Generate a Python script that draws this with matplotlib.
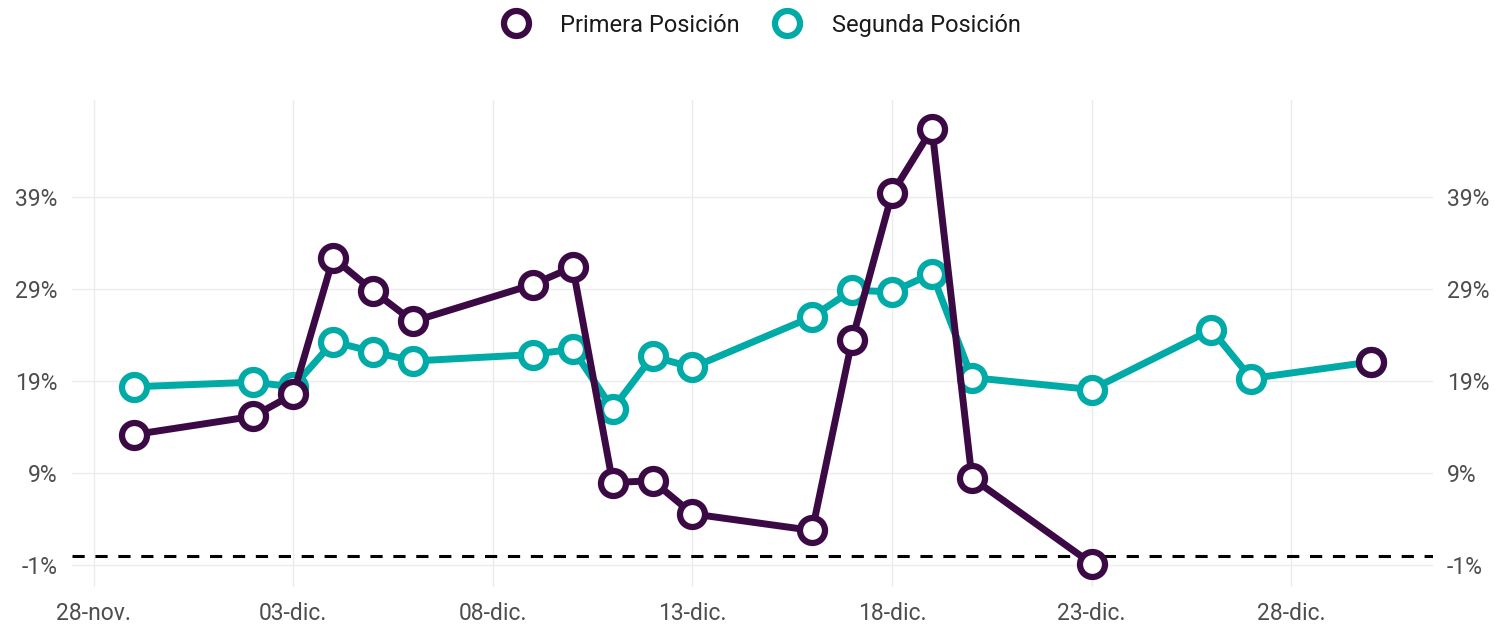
import numpy as np
import pandas as pd
import matplotlib
matplotlib.use("Agg")
from matplotlib import pyplot as plt
import matplotlib.dates as mdates

plt.rcParams["font.family"] = ["Roboto", "DejaVu Sans"]

# data: daily share (%), NaN where there is no point
fechas = pd.to_datetime([
    "2020-11-29", "2020-12-02", "2020-12-03", "2020-12-04", "2020-12-05",
    "2020-12-06", "2020-12-09", "2020-12-10", "2020-12-11", "2020-12-12",
    "2020-12-13", "2020-12-16", "2020-12-17", "2020-12-18", "2020-12-19",
    "2020-12-20", "2020-12-23", "2020-12-26", "2020-12-27", "2020-12-30",
])
primera = [13.2, 15.2, 17.6, 32.4, 28.8, 25.5, 29.5, 31.4, 8.0, 8.2,
           4.6, 2.8, 23.5, 39.4, 46.4, 8.5, -0.8, np.nan, np.nan, 21.1]
segunda = [18.4, 18.9, 18.4, 23.3, 22.2, 21.2, 21.9, 22.5, 16.0, 21.7,
           20.5, 26.0, 28.9, 28.7, 30.7, 19.4, 18.1, 24.6, 19.3, 21.1]

yticks = [-1, 9, 19, 29, 39]
xtick_fechas = pd.to_datetime(["2020-11-28", "2020-12-03", "2020-12-08", "2020-12-13",
                               "2020-12-18", "2020-12-23", "2020-12-28"])
xtick_labels = ["28-nov.", "03-dic.", "08-dic.", "13-dic.", "18-dic.", "23-dic.", "28-dic."]

c_prim = "#3b0a45"
c_seg = "#00aaa6"

fig = plt.figure(figsize=(14.95, 6.28), dpi=100)
ax = fig.add_axes([0.048, 0.065, 0.9105, 0.776])

x = mdates.date2num(fechas)


def draw(vals, color, label, z):
    vals = np.array(vals, dtype=float)
    ok = ~np.isnan(vals)
    # line breaks at the NaN gap
    idx = np.where(ok)[0]
    groups = np.split(idx, np.where(np.diff(idx) != 1)[0] + 1)
    for g in groups:
        ax.plot(x[g], vals[g], color=color, lw=5, zorder=z, solid_capstyle="round")
    ax.plot(x[ok], vals[ok], ls="none", marker="o", ms=18, mfc="white", mec=color,
            mew=4.5, zorder=z + 0.5, label=label)


draw(segunda, c_seg, "Segunda Posición", 3)
draw(primera, c_prim, "Primera Posición", 4)

ax.axhline(0, color="black", lw=2.2, ls=(0, (4, 3.5)), zorder=2)

# limits with 5% expansion
xmin, xmax = x.min(), x.max()
dx = (xmax - xmin) * 0.05
ax.set_xlim(xmin - dx, xmax + dx)
allv = np.concatenate([np.array(primera, float), np.array(segunda, float)])
ymin, ymax = np.nanmin(allv), np.nanmax(allv)
dy = (ymax - ymin) * 0.05
ax.set_ylim(ymin - dy - 0.2, ymax + dy + 0.8)

ax.set_xticks(mdates.date2num(xtick_fechas))
ax.set_xticklabels(xtick_labels)
ax.set_yticks(yticks)
ax.set_yticklabels([f"{v}%" for v in yticks])
ax.tick_params(axis="both", length=0, labelsize=16.5, colors="#4d4d4d")
ax.tick_params(axis="y", labelright=True, right=False, pad=10)
ax.tick_params(axis="x", pad=11)
ax.grid(True, color="#ebebeb", lw=1)
for s in ax.spines.values():
    s.set_visible(False)

handles, labels = ax.get_legend_handles_labels()
order = [1, 0]
fig.legend([handles[i] for i in order], [labels[i] for i in order],
           loc="upper center", bbox_to_anchor=(0.506, 1.012), ncol=2, frameon=False,
           fontsize=17, handletextpad=0.9, columnspacing=1.0, markerscale=1.0,
           labelcolor="#1a1a1a")

plt.savefig("out.png", dpi=100)
plt.close()
